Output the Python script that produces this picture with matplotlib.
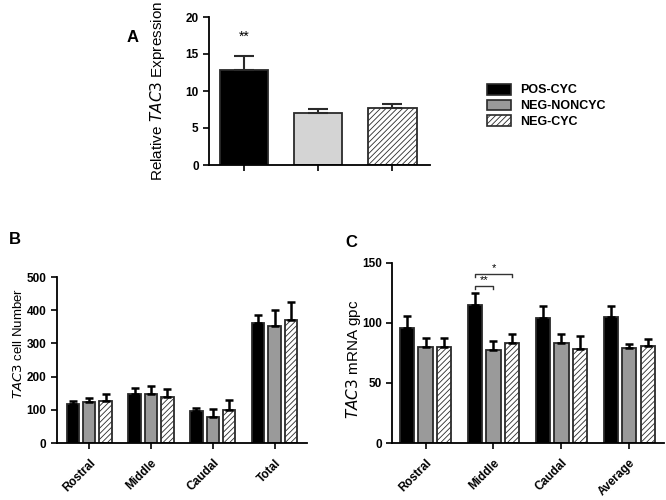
import matplotlib
matplotlib.use("Agg")
import matplotlib.pyplot as plt
from matplotlib.patches import Patch
import numpy as np

plt.rcParams['font.family'] = ['Liberation Sans', 'DejaVu Sans']
plt.rcParams['hatch.linewidth'] = 0.6
plt.rcParams['hatch.color'] = '#333333'

groups = ["POS-CYC", "NEG-NONCYC", "NEG-CYC"]

# Panel A
a_vals = [12.8, 7.0, 7.7]
a_err = [1.95, 0.6, 0.5]

# Panel B
b_cats = ["Rostral", "Middle", "Caudal", "Total"]
b_pos = [117, 147, 96, 362]
b_pos_err = [10, 18, 9, 24]
b_nonc = [122, 147, 78, 351]
b_nonc_err = [13, 24, 24, 51]
b_cyc = [126, 140, 100, 371]
b_cyc_err = [21, 24, 30, 54]

# Panel C
c_cats = ["Rostral", "Middle", "Caudal", "Average"]
c_pos = [95.6, 115.2, 104.4, 105.0]
c_pos_err = [9.9, 9.6, 9.9, 8.8]
c_nonc = [79.9, 77.7, 82.9, 78.8]
c_nonc_err = [7.7, 7.1, 7.5, 3.8]
c_cyc = [79.9, 83.5, 78.5, 80.4]
c_cyc_err = [7.7, 7.4, 10.8, 6.4]

EDGE = '#2a2a2a'
GRAY = '#9a9a9a'
LIGHT = '#d4d4d4'

fig = plt.figure(figsize=(6.66, 5.0), dpi=100)

def style(ax):
    for s in ['top', 'right']:
        ax.spines[s].set_visible(False)
    for s in ['left', 'bottom']:
        ax.spines[s].set_linewidth(1.3)
    ax.tick_params(width=1.2, length=4, labelsize=8.5)
    for lab in ax.get_yticklabels():
        lab.set_fontweight('bold')

def bars(ax, x, vals, errs, color, hatch, width, lw=1.3):
    ax.bar(x, vals, width=width, color=color, edgecolor=EDGE, linewidth=lw,
           hatch=hatch, zorder=2)
    ax.errorbar(x, vals, yerr=[np.zeros(len(vals)), errs], fmt='none',
                ecolor='black', elinewidth=1.8, capsize=2.6,
                capthick=1.8, zorder=3)

# ---- Panel A ----
axA = fig.add_axes([0.314, 0.67, 0.332, 0.296])
xa = np.arange(3)
fills = ['black', LIGHT, 'white']
hatches = [None, None, '//////']
for i in range(3):
    axA.bar(xa[i], a_vals[i], width=0.65, color=fills[i], edgecolor=EDGE,
            linewidth=1.3, hatch=hatches[i], zorder=2)
axA.errorbar(xa, a_vals, yerr=[np.zeros(3), a_err], fmt='none', ecolor=EDGE,
             elinewidth=1.5, capsize=7.5, capthick=1.5, zorder=3)
axA.set_xlim(-0.47, 2.51)
axA.set_ylim(0, 20)
axA.set_yticks([0, 5, 10, 15, 20])
axA.set_xticks(xa)
axA.set_xticklabels([])
style(axA)
axA.set_ylabel("Relative $\\it{TAC3}$ Expression", fontsize=11)
axA.yaxis.set_label_coords(-0.19, 0.5)
axA.text(xa[0], 17.3, "**", ha='center', va='center', fontsize=10)
fig.text(0.19, 0.924, "A", fontsize=12, fontweight='bold', ha='left', va='center')

# Legend
handles = [Patch(facecolor='black', edgecolor=EDGE, linewidth=1.2),
           Patch(facecolor=GRAY, edgecolor=EDGE, linewidth=1.2),
           Patch(facecolor='white', edgecolor=EDGE, linewidth=1.2, hatch='//////')]
leg = fig.legend(handles, groups, loc='upper left', bbox_to_anchor=(0.715, 0.855),
                 frameon=False, prop={'weight': 'bold', 'size': 9},
                 handlelength=1.85, handleheight=0.95, labelspacing=0.25,
                 handletextpad=0.8)

# ---- Panel B ----
axB = fig.add_axes([0.0856, 0.114, 0.375, 0.332])
xb = np.arange(len(b_cats))
w = 0.2
off = 0.265
bars(axB, xb - off, b_pos, b_pos_err, 'black', None, w)
bars(axB, xb, b_nonc, b_nonc_err, GRAY, None, w)
bars(axB, xb + off, b_cyc, b_cyc_err, 'white', '//////', w)
axB.set_xlim(-0.52, 3.52)
axB.set_ylim(0, 500)
axB.set_yticks(np.arange(0, 501, 100))
axB.set_xticks(xb)
axB.set_xticklabels(b_cats, rotation=45, ha='right', rotation_mode='anchor',
                    fontweight='bold', fontsize=8.5)
axB.tick_params(axis='x', length=0, pad=6)
style(axB)
axB.set_ylabel("$\\it{TAC3}$ cell Number", fontsize=9.5)
axB.yaxis.set_label_coords(-0.128, 0.6)
fig.text(0.014, 0.52, "B", fontsize=12, fontweight='bold', ha='left', va='center')

# ---- Panel C ----
axC = fig.add_axes([0.589, 0.114, 0.408, 0.3606])
xc = np.arange(len(c_cats))
w = 0.21
off = 0.27
bars(axC, xc - off, c_pos, c_pos_err, 'black', None, w)
bars(axC, xc, c_nonc, c_nonc_err, GRAY, None, w)
bars(axC, xc + off, c_cyc, c_cyc_err, 'white', '//////', w)
axC.set_xlim(-0.49, 3.51)
axC.set_ylim(0, 150)
axC.set_yticks([0, 50, 100, 150])
axC.set_xticks(xc)
axC.set_xticklabels(c_cats, rotation=45, ha='right', rotation_mode='anchor',
                    fontweight='bold', fontsize=8.5)
axC.tick_params(axis='x', length=0, pad=6)
style(axC)
axC.set_ylabel("$\\it{TAC3}$ mRNA gpc", fontsize=11)
axC.yaxis.set_label_coords(-0.107, 0.467)
fig.text(0.518, 0.515, "C", fontsize=12, fontweight='bold', ha='left', va='center')

# significance brackets (Middle group)
def bracket(ax, x1, x2, y, h, label):
    ax.plot([x1, x1, x2, x2], [y - h, y, y, y - h], color='#333333', lw=1.0)
    ax.text((x1 + x2) / 2, y + 0.5, label, ha='center', va='bottom', fontsize=8)

m = 1
bracket(axC, m - off, m, 131, 3, "**")
bracket(axC, m - off, m + off, 141, 3, "*")

fig.savefig("out.png", dpi=100)
